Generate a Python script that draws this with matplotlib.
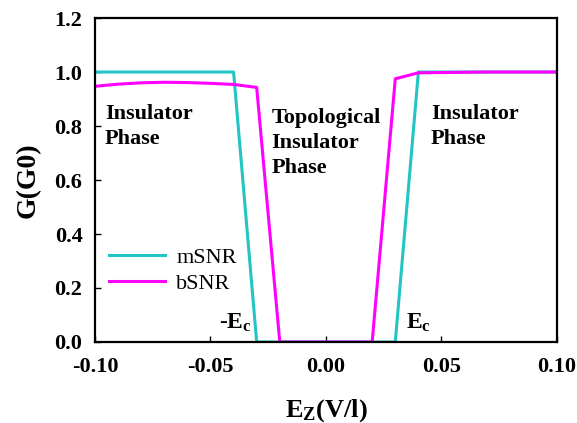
import numpy as np
import matplotlib
matplotlib.use("Agg")
import matplotlib.pyplot as plt

plt.rcParams["font.family"] = "Liberation Serif"
plt.rcParams["mathtext.fontset"] = "custom"
plt.rcParams["mathtext.rm"] = "Liberation Serif:bold"
plt.rcParams["mathtext.bf"] = "Liberation Serif:bold"
plt.rcParams["mathtext.it"] = "Liberation Serif:bold"

# field values (V/l)
ez = [-0.10, -0.09, -0.08, -0.07, -0.06, -0.05, -0.04, -0.03, -0.02, -0.01,
      0.00, 0.01, 0.02, 0.03, 0.04, 0.05, 0.06, 0.07, 0.08, 0.09, 0.10]
msnr = [1.0, 1.0, 1.0, 1.0, 1.0, 1.0, 1.0, 0.0, 0.0, 0.0,
        0.0, 0.0, 0.0, 0.0, 1.0, 1.0, 1.0, 1.0, 1.0, 1.0, 1.0]
bsnr = [0.947, 0.955, 0.960, 0.962, 0.961, 0.958, 0.954, 0.943, 0.0, 0.0,
        0.0, 0.0, 0.0, 0.975, 0.997, 0.998, 0.999, 1.0, 1.0, 1.0, 1.0]

fig = plt.figure(figsize=(5.77, 4.23), dpi=100)
ax = fig.add_axes([0.1646, 0.1915, 0.8007, 0.7659])

ax.plot(ez, msnr, color="#22C4C4", lw=2.2, label="mSNR")
ax.plot(ez, bsnr, color="#FF00FF", lw=2.2, label="bSNR")

ax.set_xlim(-0.10, 0.10)
ax.set_ylim(0.0, 1.2)
ax.set_xticks([-0.10, -0.05, 0.00, 0.05, 0.10])
ax.set_yticks([0.0, 0.2, 0.4, 0.6, 0.8, 1.0, 1.2])
ax.xaxis.set_major_formatter(matplotlib.ticker.FormatStrFormatter("%.2f"))
ax.yaxis.set_major_formatter(matplotlib.ticker.FormatStrFormatter("%.1f"))
ax.tick_params(direction="in", length=4, width=1, labelsize=16)
ax.tick_params(axis="x", pad=11)
ax.tick_params(axis="y", pad=9)
for lab in ax.get_xticklabels() + ax.get_yticklabels():
    lab.set_fontweight("bold")
for s in ax.spines.values():
    s.set_linewidth(1.6)

ax.set_xlabel(r"$\mathrm{E_Z}$(V/l)", fontsize=19, fontweight="bold", labelpad=14)
ax.set_ylabel("G(G0)", fontsize=20, fontweight="bold", labelpad=10)

tkw = dict(fontsize=16, fontweight="bold", va="top", ha="left", linespacing=1.32)
ax.text(-0.0957, 0.882, "Insulator\nPhase", **tkw)
ax.text(-0.0235, 0.865, "Topological\nInsulator\nPhase", **tkw)
ax.text(0.0455, 0.882, "Insulator\nPhase", **tkw)
ax.text(-0.0322, 0.028, r"-$\mathrm{E_c}$", fontsize=17, ha="right", va="bottom")
ax.text(0.0345, 0.028, r"$\mathrm{E_c}$", fontsize=17, ha="left", va="bottom")

ax.legend(loc="upper left", bbox_to_anchor=(-0.012, 0.355), frameon=False,
          fontsize=16, handlelength=2.5, labelspacing=0.25, handletextpad=0.5)

fig.savefig("out.png", dpi=100)
